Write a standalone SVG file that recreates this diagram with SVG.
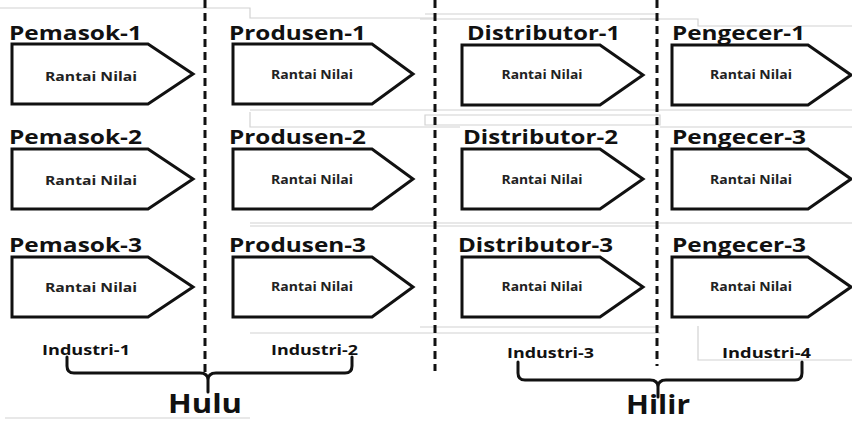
<svg xmlns="http://www.w3.org/2000/svg" width="852" height="422" viewBox="0 0 852 422">
  <style>
    .bg { fill: #ffffff; }
    .faint { fill: none; stroke: #d2d2d2; stroke-width: 1.2; }
    .chev { fill: #ffffff; stroke: #111111; stroke-width: 3; stroke-linejoin: miter; }
    .title { font-family: "Open Sans", "Liberation Sans", sans-serif; font-weight: 700; font-size: 19px; fill: #111111; }
    .inner { font-family: "Open Sans", "Liberation Sans", sans-serif; font-weight: 700; font-size: 13px; fill: #222222; text-anchor: middle; }
    .ind { font-family: "Open Sans", "Liberation Sans", sans-serif; font-weight: 700; font-size: 14px; fill: #111111; }
    .big { font-family: "Open Sans", "Liberation Sans", sans-serif; font-weight: 700; font-size: 27px; fill: #111111; }
    .divider { fill: none; stroke: #111111; stroke-width: 3; stroke-dasharray: 8 5; }
    .brace { fill: none; stroke: #111111; stroke-width: 3; stroke-linejoin: round; stroke-linecap: round; }
  </style>

  <rect class="bg" x="0" y="0" width="852" height="422"/>

  <!-- light frame lines behind the rows -->
  <g id="frames">
    <path class="faint" d="M0 8 H250 V18 H435"/>
    <path class="faint" d="M425 14 H660 M420 19 H660"/>
    <path class="faint" d="M640 19 H698 V26 H852"/>
    <path class="faint" d="M250 110 H852"/>
    <path class="faint" d="M250 112 V127 H460"/>
    <path class="faint" d="M425 115 H660 V125 H425 Z"/>
    <path class="faint" d="M660 127 H852"/>
    <path class="faint" d="M250 223 H852 M250 226 H660"/>
    <path class="faint" d="M250 333 H660 M420 327 H660"/>
    <path class="faint" d="M5 418 H250"/>
    <path class="faint" d="M698 326 V360 H852"/>
  </g>

  <!-- dashed column dividers -->
  <g id="dividers">
    <line class="divider" x1="205" y1="0" x2="205" y2="373"/>
    <line class="divider" x1="435" y1="0" x2="435" y2="371"/>
    <line class="divider" x1="657" y1="0" x2="657" y2="366"/>
  </g>

  <!-- column 1: Pemasok -->
  <g id="pemasok-1">
    <text class="title" x="9" y="40" textLength="133" lengthAdjust="spacingAndGlyphs">Pemasok-1</text>
    <polygon class="chev" points="12,44 148,44 193,74 148,104 12,104"/>
    <text class="inner" x="91" y="81" textLength="92" lengthAdjust="spacingAndGlyphs">Rantai Nilai</text>
  </g>
  <g id="pemasok-2">
    <text class="title" x="9" y="144" textLength="133" lengthAdjust="spacingAndGlyphs">Pemasok-2</text>
    <polygon class="chev" points="12,149 148,149 193,179 148,209 12,209"/>
    <text class="inner" x="91" y="185" textLength="92" lengthAdjust="spacingAndGlyphs">Rantai Nilai</text>
  </g>
  <g id="pemasok-3">
    <text class="title" x="9" y="252" textLength="133" lengthAdjust="spacingAndGlyphs">Pemasok-3</text>
    <polygon class="chev" points="12,257 148,257 193,287 148,317 12,317"/>
    <text class="inner" x="91" y="292" textLength="92" lengthAdjust="spacingAndGlyphs">Rantai Nilai</text>
  </g>

  <!-- column 2: Produsen -->
  <g id="produsen-1">
    <text class="title" x="229" y="40" textLength="137" lengthAdjust="spacingAndGlyphs">Produsen-1</text>
    <polygon class="chev" points="233,44 372,44 413,74 372,104 233,104"/>
    <text class="inner" x="312" y="79" textLength="82" lengthAdjust="spacingAndGlyphs">Rantai Nilai</text>
  </g>
  <g id="produsen-2">
    <text class="title" x="229" y="144" textLength="137" lengthAdjust="spacingAndGlyphs">Produsen-2</text>
    <polygon class="chev" points="233,149 372,149 413,179 372,209 233,209"/>
    <text class="inner" x="312" y="184" textLength="82" lengthAdjust="spacingAndGlyphs">Rantai Nilai</text>
  </g>
  <g id="produsen-3">
    <text class="title" x="229" y="252" textLength="137" lengthAdjust="spacingAndGlyphs">Produsen-3</text>
    <polygon class="chev" points="233,257 372,257 413,287 372,317 233,317"/>
    <text class="inner" x="312" y="291" textLength="82" lengthAdjust="spacingAndGlyphs">Rantai Nilai</text>
  </g>

  <!-- column 3: Distributor -->
  <g id="distributor-1">
    <text class="title" x="467" y="40" textLength="153" lengthAdjust="spacingAndGlyphs">Distributor-1</text>
    <polygon class="chev" points="462,45 600,45 643,75 600,105 462,105"/>
    <text class="inner" x="542" y="79" textLength="81" lengthAdjust="spacingAndGlyphs">Rantai Nilai</text>
  </g>
  <g id="distributor-2">
    <text class="title" x="463" y="144" textLength="155" lengthAdjust="spacingAndGlyphs">Distributor-2</text>
    <polygon class="chev" points="462,149 600,149 643,179 600,209 462,209"/>
    <text class="inner" x="542" y="184" textLength="81" lengthAdjust="spacingAndGlyphs">Rantai Nilai</text>
  </g>
  <g id="distributor-3">
    <text class="title" x="458" y="252" textLength="155" lengthAdjust="spacingAndGlyphs">Distributor-3</text>
    <polygon class="chev" points="462,257 600,257 643,287 600,317 462,317"/>
    <text class="inner" x="542" y="291" textLength="81" lengthAdjust="spacingAndGlyphs">Rantai Nilai</text>
  </g>

  <!-- column 4: Pengecer -->
  <g id="pengecer-1">
    <text class="title" x="672" y="40" textLength="133" lengthAdjust="spacingAndGlyphs">Pengecer-1</text>
    <polygon class="chev" points="672,45 808,45 851,75 808,105 672,105"/>
    <text class="inner" x="751" y="79" textLength="82" lengthAdjust="spacingAndGlyphs">Rantai Nilai</text>
  </g>
  <g id="pengecer-2">
    <text class="title" x="672" y="144" textLength="134" lengthAdjust="spacingAndGlyphs">Pengecer-3</text>
    <polygon class="chev" points="672,149 808,149 851,179 808,209 672,209"/>
    <text class="inner" x="751" y="184" textLength="82" lengthAdjust="spacingAndGlyphs">Rantai Nilai</text>
  </g>
  <g id="pengecer-3">
    <text class="title" x="672" y="252" textLength="134" lengthAdjust="spacingAndGlyphs">Pengecer-3</text>
    <polygon class="chev" points="672,257 808,257 851,287 808,317 672,317"/>
    <text class="inner" x="751" y="291" textLength="82" lengthAdjust="spacingAndGlyphs">Rantai Nilai</text>
  </g>

  <!-- industry labels -->
  <g id="industri">
    <text class="ind" x="42" y="355" textLength="88" lengthAdjust="spacingAndGlyphs">Industri-1</text>
    <text class="ind" x="271" y="355" textLength="87" lengthAdjust="spacingAndGlyphs">Industri-2</text>
    <text class="ind" x="507" y="358" textLength="87" lengthAdjust="spacingAndGlyphs">Industri-3</text>
    <text class="ind" x="722" y="358" textLength="89" lengthAdjust="spacingAndGlyphs">Industri-4</text>
  </g>

  <!-- grouping braces -->
  <g id="braces">
    <path class="brace" d="M67 357 V366 Q67 373 74 373 H200 Q208 373 208 380 V392 M208 380 Q208 373 216 373 H345 Q352 373 352 366 V357"/>
    <path class="brace" d="M518 362 V373 Q518 380 525 380 H650 Q658 380 658 387 V397 M658 387 Q658 380 666 380 H795 Q802 380 802 373 V362"/>
  </g>

  <g id="hulu">
    <text class="big" x="168" y="413" textLength="74" lengthAdjust="spacingAndGlyphs">Hulu</text>
  </g>
  <g id="hilir">
    <text class="big" x="626" y="414" font-size="26" textLength="64" lengthAdjust="spacingAndGlyphs">Hilir</text>
  </g>
</svg>
